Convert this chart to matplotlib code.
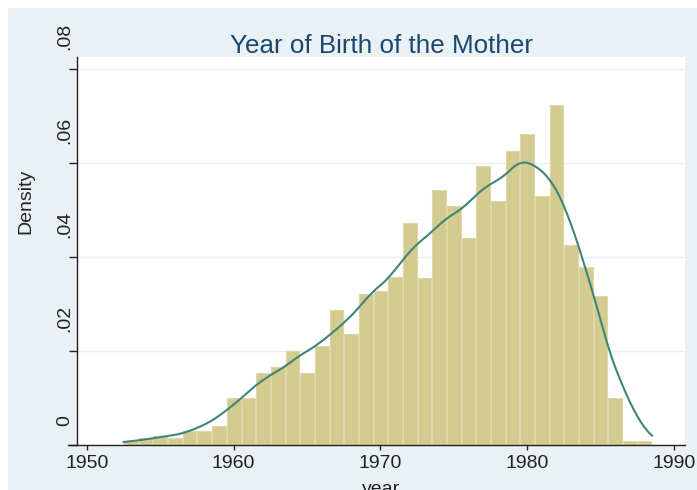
import numpy as np
import matplotlib
matplotlib.use("Agg")
import matplotlib.pyplot as plt
from matplotlib.patches import Rectangle
from matplotlib.lines import Line2D
import matplotlib.transforms as mtransforms

# ---- data ----
years = list(range(1953, 1989))
density = [0.0008, 0.0014, 0.0019, 0.0015, 0.0029, 0.0030, 0.0040,
           0.0101, 0.0099, 0.0153, 0.0167, 0.0199, 0.0153, 0.0211,
           0.0287, 0.0236, 0.0322, 0.0328, 0.0357, 0.0472, 0.0355,
           0.0543, 0.0509, 0.0440, 0.0593, 0.0519, 0.0626, 0.0661,
           0.0529, 0.0723, 0.0425, 0.0379, 0.0316, 0.0100, 0.0009,
           0.0009]
xticks = [1950, 1960, 1970, 1980, 1990]
yticks = [0, 0.02, 0.04, 0.06, 0.08]
ytick_labels = ["0", ".02", ".04", ".06", ".08"]
title = "Year of Birth of the Mother"
xlabel = "year"
ylabel = "Density"

# ---- style ----
W, H, DPI = 697, 490, 100
BG = "#EAF1F4"
BAR = "#D3CB8F"
BAR_EDGE = "#DED8A8"
LINE = "#3F8578"
TITLE_C = "#1A476F"
plt.rcParams["font.family"] = ["Liberation Sans", "DejaVu Sans"]

fig = plt.figure(figsize=(W / DPI, H / DPI), dpi=DPI)
fig.patch.set_facecolor("white")
fig.patches.append(Rectangle((8 / W, 0), 1, (H - 8) / H, transform=fig.transFigure,
                             facecolor=BG, edgecolor="none", zorder=-10))

left, right, top, bottom = 77, 685, 57, 445
ax = fig.add_axes([left / W, (H - bottom) / H, (right - left) / W, (bottom - top) / H])
ax.set_facecolor("white")

px_per_year = (674 - 86.9) / 40.0
x0 = 1950 + (left - 86.9) / px_per_year
x1 = 1950 + (right - 86.9) / px_per_year
ax.set_xlim(x0, x1)
ax.set_ylim(0, (bottom - top) / 94.0 * 0.02)

# histogram bars
yrs = np.array(years, dtype=float)
dens = np.array(density)
ax.bar(yrs, dens, width=0.93, color=BAR, edgecolor=BAR_EDGE, linewidth=0.8, zorder=2)

# kernel density (Epanechnikov, Stata form) computed from the binned data
sub = 20
offs = (np.arange(sub) + 0.5) / sub - 0.5
pts = (yrs[:, None] + offs[None, :]).ravel()
wts = np.repeat(dens / dens.sum() / sub, sub)
h = 1.6
grid = np.linspace(yrs[0] - 0.5, yrs[-1] + 0.5, 400)
z = (grid[:, None] - pts[None, :]) / h
k = np.where(np.abs(z) < np.sqrt(5), 0.75 * (1 - z ** 2 / 5) / np.sqrt(5), 0.0)
kde = (k * wts[None, :]).sum(axis=1) / h
ax.plot(grid, kde, color=LINE, linewidth=1.5, zorder=3)

# grid
ax.set_yticks(yticks)
ax.grid(axis="y", color=BG, linewidth=1.0, zorder=0)
ax.set_axisbelow(True)

# spines
for s in ["top", "right"]:
    ax.spines[s].set_visible(False)
ax.spines["left"].set_color("#222222")
ax.spines["bottom"].set_color("#222222")
ax.spines["left"].set_linewidth(1.0)
ax.spines["bottom"].set_linewidth(1.0)
ax.add_line(Line2D([(68 - left) / (right - left), 0], [0, 0], transform=ax.transAxes,
                   color="#222222", linewidth=1.0, clip_on=False))

# x ticks
ax.set_xticks(xticks)
ax.set_xticklabels([str(t) for t in xticks])
ax.tick_params(axis="x", direction="out", length=3.6, width=1.0, pad=3.6,
               labelsize=14, colors="#222222")

# y ticks
ax.set_yticklabels(ytick_labels, rotation=90, va="bottom", ha="center")
ax.tick_params(axis="y", direction="out", length=5.8, width=1.0, pad=3.0,
               labelsize=14, colors="#222222")
off = mtransforms.ScaledTranslation(0, 19 / DPI, fig.dpi_scale_trans)
for lab in ax.get_yticklabels():
    lab.set_transform(lab.get_transform() + off)

# labels
ax.set_ylabel(ylabel, fontsize=14, color="#222222")
ax.yaxis.set_label_coords((26 - left) / (right - left), (bottom - 201) / (bottom - top))
ax.yaxis.label.set_va("center")
ax.set_xlabel(xlabel, fontsize=14, color="#222222")
ax.xaxis.set_label_coords((381 - left) / (right - left), -(481 - bottom) / (bottom - top))
ax.xaxis.label.set_va("top")

fig.text(381 / W, 1 - 53 / H, title, ha="center", va="baseline",
         fontsize=18.7, color=TITLE_C)

fig.savefig("out.png", dpi=DPI, facecolor=fig.get_facecolor())
